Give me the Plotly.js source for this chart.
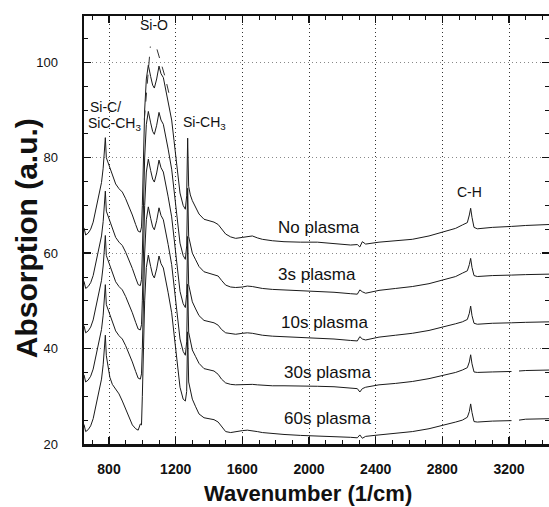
<!DOCTYPE html>
<html>
<head>
<meta charset="utf-8">
<script src="https://cdn.plot.ly/plotly-3.0.1.min.js"></script>
<style>html,body{margin:0;padding:0;background:#fff;}#chart{width:549px;height:507px;}</style>
</head>
<body>
<div id="chart"></div>
<script>
// Wavenumber grid (1/cm)
const wavenumber = [650,660,675,690,705,720,740,755,765,772,
  778,784,792,805,820,840,860,880,900,920,
  940,960,975,988,995,1000,1006,1014,1024,1036,
  1050,1062,1072,1086,1100,1112,1126,1140,1155,1176,
  1190,1206,1226,1245,1258,1266,1272,1278,1288,1300,
  1320,1340,1370,1400,1430,1455,1475,1500,1530,1560,
  1600,1630,1660,1690,1720,1780,1850,1950,2050,2150,
  2250,2290,2305,2320,2340,2420,2520,2620,2720,2820,
  2880,2920,2950,2962,2970,2978,2990,3010,3050,3100,
  3215,3240,3260,3300,3440];

const noPlasma = [65.3,63.8,64.2,65.0,66.5,68.8,72.0,74.8,77.8,80.5,
  84.2,80.0,79.2,78.2,76.5,74.5,73.5,72.8,71.4,69.8,
  68.0,66.0,64.6,64.4,65.5,70.0,80.0,90.0,96.5,99.4,
  97.0,95.2,94.6,96.5,99.2,97.6,96.8,94.5,91.8,87.9,
  83.6,78.1,72.6,70.0,69.2,72.0,84.1,74.0,72.2,71.0,
  69.6,68.2,67.1,66.8,66.5,66.0,65.0,64.0,63.4,63.1,
  63.3,63.4,63.6,63.2,62.9,62.6,62.4,62.3,62.3,62.0,
  61.7,61.8,61.3,62.4,61.9,62.3,62.6,62.9,63.6,64.5,
  65.2,65.9,66.4,68.0,69.4,67.5,65.4,65.1,65.3,65.4,
  65.6,65.6,65.7,65.8,66.0];

const plasma3s = [54.1,52.6,53.0,53.8,55.3,57.6,60.8,63.6,66.6,69.3,
  73.0,68.8,68.0,67.0,65.3,63.3,62.3,61.6,60.2,58.6,
  56.8,54.8,53.4,53.2,54.5,60.0,70.0,80.0,87.0,89.7,
  87.3,85.5,84.9,86.8,89.5,87.9,87.0,84.6,81.8,77.6,
  73.1,67.6,62.1,59.5,58.7,61.5,73.6,63.5,61.7,60.0,
  58.6,57.2,56.1,55.8,55.6,55.2,54.3,53.3,52.9,52.8,
  52.9,53.1,53.0,52.8,52.6,52.4,52.3,52.1,52.0,51.8,
  51.5,51.4,52.3,51.9,51.6,52.2,52.6,53.0,53.6,54.5,
  55.1,55.8,56.3,57.6,58.9,57.0,55.3,55.1,55.2,55.3,
  55.4,55.4,55.5,55.5,55.6];

const plasma10s = [44.8,43.3,43.7,44.5,46.0,48.3,51.5,54.3,57.3,60.0,
  63.7,59.5,58.7,57.7,56.0,54.0,53.0,52.3,50.9,49.3,
  47.5,45.5,44.1,43.9,45.0,50.0,60.0,70.0,77.0,79.7,
  77.3,75.5,74.9,76.8,79.5,77.9,77.0,74.6,71.8,67.6,
  63.0,57.5,52.0,49.4,48.6,51.4,63.5,53.4,51.6,49.8,
  48.3,46.9,45.9,45.6,45.4,44.9,44.0,43.3,43.1,43.0,
  43.2,43.3,43.2,43.0,42.8,42.6,42.5,42.3,42.2,42.0,
  41.7,41.6,42.5,42.0,41.8,42.4,42.8,43.2,43.8,44.6,
  45.2,45.6,46.1,47.4,48.9,46.9,45.3,45.1,45.2,45.3,
  45.4,45.4,45.5,45.5,45.6];

const plasma30s = [34.5,33.0,33.4,34.2,35.7,38.0,41.2,44.0,47.0,49.7,
  53.4,49.2,48.4,47.4,45.7,43.7,42.7,42.0,40.6,39.0,
  37.2,35.2,33.8,33.6,34.7,40.0,50.0,60.0,67.0,69.7,
  67.3,65.5,64.9,66.8,69.5,67.9,67.0,64.6,61.8,57.6,
  53.0,47.5,42.0,39.4,38.6,41.4,53.5,43.4,41.6,39.7,
  38.3,36.9,35.8,35.5,35.3,34.6,33.6,32.8,32.5,32.4,
  32.5,32.5,32.5,32.4,32.3,32.2,32.2,32.2,32.1,32.0,
  31.8,31.6,30.9,31.6,31.9,32.4,32.7,33.1,33.7,34.5,
  35.0,35.5,36.0,37.2,38.7,36.8,35.1,35.0,35.1,35.1,
  35.2,null,35.3,35.4,35.5];

const plasma60s = [24.1,22.6,23.0,23.8,25.3,27.6,30.8,33.6,36.6,39.3,
  42.8,38.5,36.5,34.0,32.5,31.5,30.5,29.0,27.2,25.5,
  24.0,23.2,22.9,24.2,24.0,30.0,40.0,50.0,57.0,59.6,
  57.2,55.4,54.8,56.7,59.4,57.8,56.9,54.5,51.7,47.5,
  42.9,37.4,31.9,29.4,29.0,31.0,43.5,33.0,31.2,29.4,
  27.8,26.3,25.5,25.3,25.1,24.6,23.6,22.6,22.4,22.6,
  22.8,22.9,22.8,22.6,22.4,22.2,22.0,21.8,21.7,21.6,
  21.4,21.3,21.9,21.2,21.6,21.9,22.2,22.6,23.2,24.0,
  24.6,25.0,25.6,26.8,28.4,26.6,24.7,24.6,24.7,24.8,
  24.9,null,25.0,25.2,25.3];

// Dashed envelope above the Si-O band
const envelopeX = [1012,1048,1062,1088,1136,1170];
const envelopeY = [88.0,103.3,null,102.7,97.0,92.0];

const seriesNames = ["No plasma","3s plasma","10s plasma","30s plasma","60s plasma"];
const seriesData = [noPlasma, plasma3s, plasma10s, plasma30s, plasma60s];

// Curve labels
const labelText = ["No plasma","3s plasma","10s plasma","30s plasma","60s plasma"];
const labelX = [2060, 2050, 2095, 2110, 2110];
const labelY = [65.4, 55.5, 45.5, 35.0, 25.4];

// Band labels
const bandText = ["Si-O","Si-C/","SiC-CH<sub>3</sub>","Si-CH<sub>3</sub>","C-H"];
const bandX = [1070, 780, 830, 1370, 2965];
const bandY = [107.9, 90.7, 87.0, 87.3, 72.9];

const xTitle = "Wavenumber (1/cm)";
const yTitle = "Absorption (a.u.)";

const FONT = "Liberation Sans, Arial, Helvetica, sans-serif";

const traces = seriesData.map((ys, i) => ({
  x: wavenumber, y: ys, type: "scatter", mode: "lines", name: seriesNames[i],
  line: {color: "#1a1a1a", width: 1}, connectgaps: false, hoverinfo: "skip"
}));
traces.push({x: envelopeX, y: envelopeY, type: "scatter", mode: "lines",
  line: {color: "#333", width: 1, dash: "dash"}, connectgaps: false, hoverinfo: "skip"});

const annotations = [];
labelText.forEach((t, i) => annotations.push({x: labelX[i], y: labelY[i], text: t,
  showarrow: false, xanchor: "center", yanchor: "middle",
  font: {family: FONT, size: 17, color: "#111"}}));
bandText.forEach((t, i) => annotations.push({x: bandX[i], y: bandY[i], text: t,
  showarrow: false, xanchor: "center", yanchor: "middle",
  font: {family: FONT, size: 14, color: "#111"}}));
// Axis titles placed as annotations so they can sit where the reference puts them
annotations.push({xref: "paper", yref: "paper", x: 0, y: 0.481, xshift: -58,
  text: yTitle, textangle: -90, showarrow: false, xanchor: "center", yanchor: "middle",
  font: {family: FONT, size: 30, weight: "bold", color: "#111"}});
annotations.push({xref: "paper", yref: "paper", x: 0.482, y: 0, yshift: -49,
  text: xTitle, showarrow: false, xanchor: "center", yanchor: "middle",
  font: {family: FONT, size: 22, weight: "bold", color: "#111"}});

const layout = {
  width: 549, height: 507,
  margin: {l: 84, r: 0, t: 16, b: 63, pad: 0},
  paper_bgcolor: "#fff", plot_bgcolor: "#fff",
  showlegend: false,
  font: {family: FONT, color: "#111"},
  xaxis: {
    range: [650, 3440], tickvals: [800,1200,1600,2000,2400,2800,3200],
    ticks: "inside", ticklen: 7, tickwidth: 1.5, tickcolor: "#111",
    showline: true, linewidth: 2.5, linecolor: "#111", mirror: "ticks",
    showgrid: true, gridcolor: "#333", griddash: "1px,3px", gridwidth: 1,
    zeroline: false, ticklabelstandoff: 11,
    tickfont: {family: FONT, size: 14, weight: "bold", color: "#111"},
    minor: {dtick: 100, tick0: 0, ticks: "inside", ticklen: 4, tickwidth: 1, tickcolor: "#111", showgrid: false}
  },
  yaxis: {
    range: [20, 109.7], tickvals: [20,40,60,80,100],
    ticks: "inside", ticklen: 7, tickwidth: 1.5, tickcolor: "#111",
    showline: true, linewidth: 2.5, linecolor: "#111", mirror: "ticks",
    showgrid: true, gridcolor: "#888", griddash: "1px,3px", gridwidth: 1,
    zeroline: false, ticklabelstandoff: 21,
    tickfont: {family: FONT, size: 13, color: "#111"},
    minor: {dtick: 5, tick0: 0, ticks: "inside", ticklen: 4, tickwidth: 1, tickcolor: "#111", showgrid: false}
  },
  annotations: annotations
};

Plotly.newPlot("chart", traces, layout, {staticPlot: true, displayModeBar: false});
</script>
</body>
</html>
